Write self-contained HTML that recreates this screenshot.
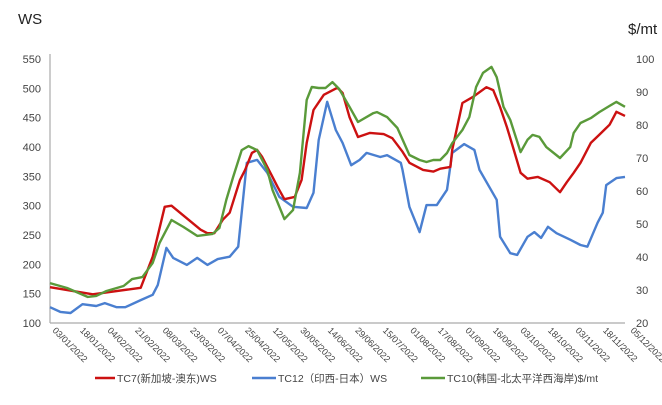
<!DOCTYPE html>
<html><head><meta charset="utf-8"><style>
body{margin:0;background:#fff;}
svg text{font-family:"Liberation Sans","Noto Sans CJK SC",sans-serif;}
</style></head><body>
<svg id="c" width="662" height="400" xmlns="http://www.w3.org/2000/svg">
<text x="18" y="24" font-size="15" fill="#222">WS</text>
<text x="628" y="34" font-size="15" fill="#222">$/mt</text>
<g id="axes"></g><g id="series"></g><g id="legend"></g>
</svg>
<script>
const dateLabels=["03/01/2022","18/01/2022","04/02/2022","21/02/2022","08/03/2022","23/03/2022","07/04/2022","25/04/2022","12/05/2022","30/05/2022","14/06/2022","29/06/2022","15/07/2022","01/08/2022","17/08/2022","01/09/2022","16/09/2022","03/10/2022","18/10/2022","03/11/2022","18/11/2022","05/12/2022"];
const leftTicks=[100,150,200,250,300,350,400,450,500,550];
const rightTicks=[20,30,40,50,60,70,80,90,100];
const tc7Days=[0,25,53,60,67,71,88,92,96,101,105,111,114,118,121,124,130,133,137,143,147,150,154,160,168,171,175,180,187,195,200,206,210,218,224,228,234,235,241,247,255,259,263,267,271,275,279,285,292,298,302,306,310,316,321,327,331,336];
const tc7Vals=[161,149,160,213,298,300,259,253,253,276,288,344,361,390,395,383,349,332,311,315,344,407,463,489,501,492,451,417,424,422,415,392,373,361,358,363,366,395,475,485,502,497,468,434,395,356,346,349,340,323,340,356,373,407,421,438,460,453];
const tc12Days=[0,6,12,19,27,32,39,44,53,60,63,68,72,80,86,92,98,105,110,115,121,127,134,142,150,154,157,162,167,171,176,181,185,193,197,205,206,210,216,220,226,232,235,242,248,251,261,263,269,273,279,283,287,291,296,304,310,314,320,323,325,331,336];
const tc12Vals=[127,119,117,132,129,134,127,127,139,148,165,228,211,199,211,199,209,213,230,373,378,356,315,298,296,322,412,477,429,407,369,378,390,383,386,373,361,298,255,301,301,327,390,405,395,361,310,247,219,216,247,255,245,264,253,242,233,230,271,288,335,347,349];
const tc10Days=[0,10,22,27,33,43,48,54,60,64,71,78,86,95,99,103,107,112,116,121,127,130,137,142,146,150,153,157,161,165,169,175,180,189,191,197,203,207,210,216,220,224,228,232,235,241,245,249,253,258,261,265,269,275,279,282,286,290,298,304,306,310,316,321,327,331,336];
const tc10Vals=[32.1,30.6,27.9,28.2,29.7,31.2,33.3,33.9,38.2,44.2,51.2,49.1,46.4,47.0,48.8,57.3,64.2,72.4,73.6,72.4,66.4,60.3,51.5,54.2,65.5,87.6,91.5,91.2,91.2,93.0,90.9,85.5,80.9,83.6,83.9,82.4,79.1,74.5,70.9,69.4,68.8,69.4,69.4,71.5,74.5,78.5,82.4,91.5,95.8,97.6,94.5,85.5,81.5,71.8,75.5,77.0,76.4,73.3,70.0,73.3,77.6,80.6,82.1,83.9,85.8,87.0,85.5];

const X0=50,X1=625,Y0=323,Y1=59,DMAX=336;
const xs=d=>X0+(d/DMAX)*(X1-X0);
const yl=v=>Y0-(v-100)/(550-100)*(Y0-Y1);
const yr=v=>Y0-(v-20)/(100-20)*(Y0-Y1);
const NS="http://www.w3.org/2000/svg";
function mk(tag,attrs,parent){const e=document.createElementNS(NS,tag);for(const k in attrs)e.setAttribute(k,attrs[k]);parent.appendChild(e);return e;}
const axes=document.getElementById('axes');
let l=mk('line',{x1:X0,y1:Y1-5,x2:X0,y2:Y0,stroke:'#aaa','stroke-width':1.2},axes);


l=mk('line',{x1:X0,y1:Y0,x2:X1,y2:Y0,stroke:'#aaa','stroke-width':1.2},axes);


leftTicks.forEach(v=>{const t=mk('text',{x:41,y:yl(v)+4,'font-size':11,fill:'#444','text-anchor':'end'},axes);t.textContent=v;

});
rightTicks.forEach(v=>{const t=mk('text',{x:636,y:yr(v)+4,'font-size':11,fill:'#444'},axes);t.textContent=v;

});
const step=(X1-X0+3)/(dateLabels.length-1);
dateLabels.forEach((s,i)=>{const x=X0+2+i*step,y=Y0+8;const t=mk('text',{x:x,y:y,'font-size':9,fill:'#444',transform:`rotate(45 ${x} ${y})`},axes);t.textContent=s;

});
const ser=document.getElementById('series');
function line(days,vals,yf,color,name){const d=days.map((dd,i)=>(i?'L':'M')+xs(dd).toFixed(1)+','+yf(vals[i]).toFixed(1)).join(' ');
const p=mk('path',{d:d,fill:'none',stroke:color,'stroke-width':2.4,'stroke-linejoin':'round'},ser);

}
line(tc12Days,tc12Vals,yl,'#4a7fd0','tc12-line');
line(tc7Days,tc7Vals,yl,'#cc1111','tc7-line');
line(tc10Days,tc10Vals,yr,'#5a9a3a','tc10-line');
const lg=document.getElementById('legend');
[[95,117,'#cc1111','TC7(新加坡-澳东)WS','legend-tc7'],[252,278,'#4a7fd0','TC12（印西-日本）WS','legend-tc12'],[421,447,'#5a9a3a','TC10(韩国-北太平洋西海岸)$/mt','legend-tc10']].forEach(a=>{
const g=mk('g',{},lg);


mk('line',{x1:a[0],y1:378,x2:a[1]-2,y2:378,stroke:a[2],'stroke-width':2.5},g);
const t=mk('text',{x:a[1],y:382,'font-size':10.5,fill:'#444'},g);t.textContent=a[3];});
</script>
</body></html>
